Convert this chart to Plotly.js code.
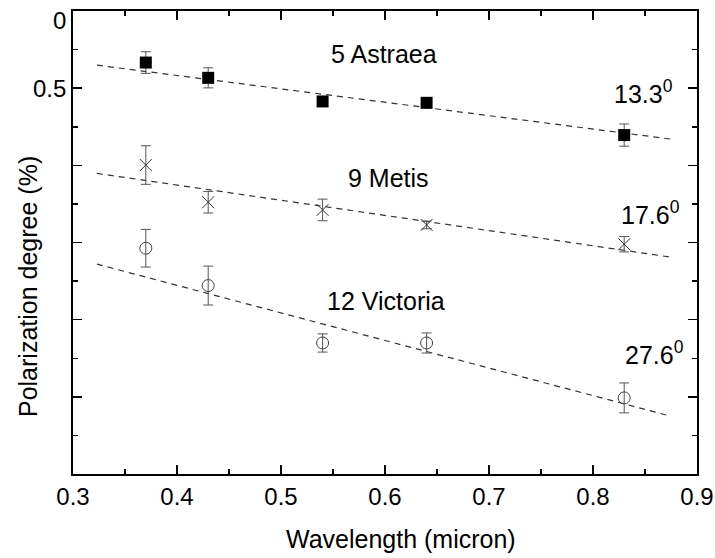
<!DOCTYPE html>
<html>
<head>
<meta charset="utf-8">
<script src="https://cdn.plot.ly/plotly-3.0.1.min.js"></script>
<style>html,body{margin:0;padding:0;background:#fff;}#chart{width:715px;height:558px;}</style>
</head>
<body>
<div id="chart"></div>
<script>
// Wavelengths (micron)
const wavelength = [0.37, 0.43, 0.54, 0.64, 0.83];

// Polarization degree (%) — axis is reversed (0 at top)
const astraeaP   = [0.334, 0.433, 0.586, 0.595, 0.804];
const astraeaErr = [0.070, 0.065, 0.020, 0.020, 0.072];
const metisP     = [0.998, 1.239, 1.289, 1.386, 1.511];
const metisErr   = [0.125, 0.070, 0.070, 0.025, 0.050];
const victoriaP  = [1.537, 1.779, 2.151, 2.151, 2.507];
const victoriaErr= [0.122, 0.126, 0.059, 0.065, 0.097];

// Linear fits (end points)
const fitX        = [0.323, 0.875];
const fitAstraea  = [0.351, 0.830];
const fitMetis    = [1.052, 1.595];
const fitVictoria = [1.640, 2.626];

// Labels
const asteroidNames = ['5 Astraea', '9 Metis', '12 Victoria'];
const phaseAngles   = ['13.3', '17.6', '27.6'];
const xTickLabels   = ['0.3','0.4','0.5','0.6','0.7','0.8','0.9'];
const yTickVals     = [0, 0.5, 1, 1.5, 2, 2.5, 3];
const yTickLabels   = ['0', '0.5'];   // only these two are labelled in the original

const font = 'Liberation Sans, Arial, sans-serif';
const errStyle = (arr) => ({type:'data', array: arr, visible:true, color:'#555', thickness:1, width:5});

const fitLine = (y) => ({x: fitX, y: y, mode:'lines', type:'scatter',
  line:{color:'#333', width:1.2, dash:'6px,5px'}, hoverinfo:'skip', showlegend:false});

const traces = [
  fitLine(fitAstraea), fitLine(fitMetis), fitLine(fitVictoria),
  {x: wavelength, y: astraeaP, mode:'markers', type:'scatter', showlegend:false,
   error_y: errStyle(astraeaErr),
   marker:{symbol:'square', size:12, color:'#000', line:{width:0}}},
  {x: wavelength, y: metisP, mode:'markers', type:'scatter', showlegend:false,
   error_y: errStyle(metisErr),
   marker:{symbol:'x-thin-open', size:12, color:'#333', line:{width:1, color:'#333'}}},
  {x: wavelength, y: victoriaP, mode:'markers', type:'scatter', showlegend:false,
   error_y: errStyle(victoriaErr),
   marker:{symbol:'circle-open', size:12, color:'#444', line:{width:1, color:'#444'}}}
];

const nameY  = [0.280, 1.082, 1.878];
const nameX  = [0.5987, 0.6035, 0.6005];
const angY   = [0.526, 1.309, 2.214];
const angX   = [0.818, 0.8246, 0.8285];

const annotations = [];
asteroidNames.forEach((n,i)=>annotations.push({x:nameX[i], y:nameY[i], xref:'x', yref:'y',
  text:n, showarrow:false, xanchor:'center', yanchor:'middle', font:{family:font, size:25, color:'#000'}}));
phaseAngles.forEach((a,i)=>annotations.push({x:angX[i], y:angY[i], xref:'x', yref:'y',
  text:a+'<sup>0</sup>', showarrow:false, xanchor:'left', yanchor:'middle', font:{family:font, size:25, color:'#000'}}));
// y tick labels "0" (nudged inside like the original) and "0.5"
const yLabelPos = [0.06, 0.5];
yTickLabels.forEach((t,i)=>annotations.push({x:0, y:yLabelPos[i], xref:'paper', yref:'y', text:t, showarrow:false,
  xanchor:'right', yanchor:'middle', xshift:-5, font:{family:font, size:24, color:'#000'}}));
// axis titles
annotations.push({x:-0.072, y:0.404, xref:'paper', yref:'paper', text:'Polarization degree (%)',
  showarrow:false, textangle:-90, xanchor:'center', yanchor:'middle', font:{family:font, size:25, color:'#000'}});
annotations.push({x:0.525, y:-0.141, xref:'paper', yref:'paper', text:'Wavelength (micron)',
  showarrow:false, xanchor:'center', yanchor:'middle', font:{family:font, size:25, color:'#000'}});

const layout = {
  width:715, height:558,
  margin:{l:73, r:18, t:11, b:84, pad:0},
  paper_bgcolor:'#fff', plot_bgcolor:'#fff',
  showlegend:false,
  font:{family:font, color:'#000'},
  xaxis:{range:[0.3,0.9], tickvals:[0.3,0.4,0.5,0.6,0.7,0.8,0.9],
    ticktext:xTickLabels,
    ticks:'inside', ticklen:9, tickwidth:1.5, tickcolor:'#000',
    minor:{ticks:'inside', dtick:0.05, tick0:0.3, ticklen:5, tickwidth:1.5, tickcolor:'#000', showgrid:false},
    showline:true, linewidth:2, linecolor:'#000', mirror:'allticks',
    showgrid:false, zeroline:false,
    tickfont:{family:font, size:24, color:'#000'}},
  yaxis:{range:[3,0], tickvals:yTickVals, showticklabels:false,
    ticks:'inside', ticklen:9, tickwidth:1.5, tickcolor:'#000',
    minor:{ticks:'inside', dtick:0.25, tick0:0, ticklen:5, tickwidth:1.5, tickcolor:'#000', showgrid:false},
    showline:true, linewidth:2, linecolor:'#000', mirror:'allticks',
    showgrid:false, zeroline:false},
  annotations: annotations
};

Plotly.newPlot('chart', traces, layout, {displayModeBar:false, staticPlot:true});
</script>
</body>
</html>
